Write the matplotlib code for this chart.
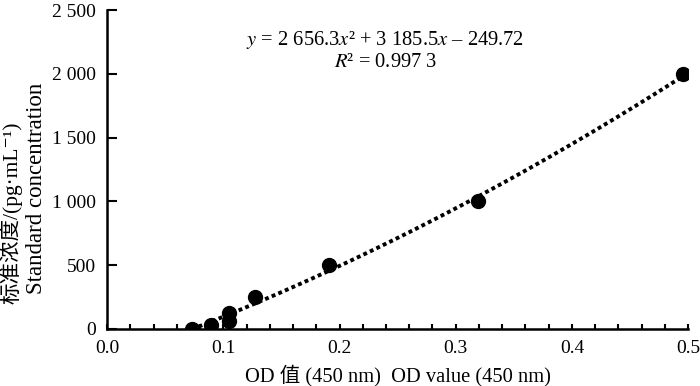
import numpy as np
import matplotlib
matplotlib.use("Agg")
import matplotlib.pyplot as plt
from matplotlib.ticker import MultipleLocator, FuncFormatter

plt.rcParams["mathtext.fontset"] = "stix"
plt.rcParams["font.family"] = ["Liberation Serif", "Noto Sans CJK SC", "DejaVu Serif"]

# standard curve points
od = [0.073, 0.089, 0.105, 0.105, 0.127, 0.191, 0.319, 0.496]
conc = [0, 31.25, 62.5, 125, 250, 500, 1000, 2000]

# fitted quadratic
coef = [2656.3, 3185.5, -249.72]
eq_text = r"$y$ = 2 656.3$x$² + 3 185.5$x$ – 249.72"
r2_text = r"$R$² = 0.997 3"

fig = plt.figure(figsize=(7, 3.86), dpi=100)
ax = fig.add_axes([0.153, 0.148, 0.83, 0.826])

xf = np.linspace(min(od), max(od), 200)
yf = coef[0] * xf**2 + coef[1] * xf + coef[2]
ax.plot(xf, yf, color="black", lw=2.8, linestyle=(0, (1, 0.85)), zorder=2)
ax.plot(od, conc, "o", color="black", ms=10, zorder=3)

ax.set_xlim(0, 0.5)
ax.set_ylim(0, 2500)
ax.xaxis.set_major_locator(MultipleLocator(0.1))
ax.xaxis.set_minor_locator(MultipleLocator(0.02))
ax.yaxis.set_major_locator(MultipleLocator(500))
ax.xaxis.set_major_formatter(FuncFormatter(lambda v, p: f"{v:.1f}"))
ax.yaxis.set_major_formatter(
    FuncFormatter(lambda v, p: f"{int(v):,}".replace(",", " ")))

for s in ["top", "right"]:
    ax.spines[s].set_visible(False)
for s in ["left", "bottom"]:
    ax.spines[s].set_linewidth(1.8)

ax.tick_params(axis="x", which="both", direction="in", length=3.5, width=1.5,
               labelsize=14, pad=8)
ax.tick_params(axis="y", which="major", direction="in", length=7, width=1.5,
               labelsize=14, pad=8)

ax.text(0.2395, 2265, eq_text, ha="center", va="center", fontsize=14.8,
        family="Liberation Serif")
ax.text(0.2395, 2085, r2_text, ha="center", va="center", fontsize=14.8,
        family="Liberation Serif")

fig.text(0.568, 0.028, "OD 值 (450 nm)  OD value (450 nm)", ha="center",
         va="center", fontsize=14.8)
fig.text(0.016, 0.45, "标准浓度/(pg·mL⁻¹)", rotation=90, ha="center",
         va="center", fontsize=15.5)
fig.text(0.052, 0.513, "Standard concentration", rotation=90, ha="center",
         va="center", fontsize=16.5)

fig.savefig("out.png", dpi=100)
